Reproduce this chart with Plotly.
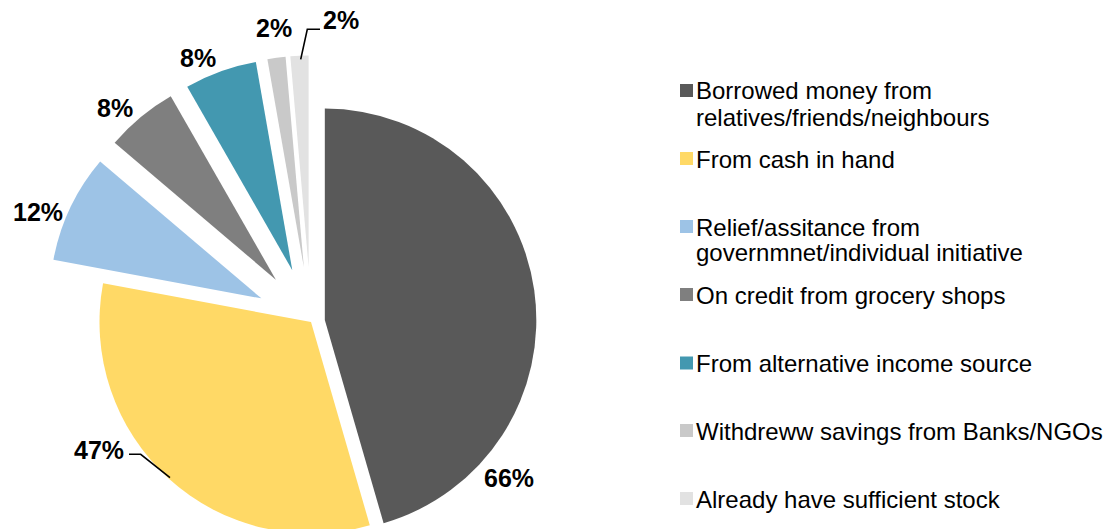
import plotly.graph_objects as go

# ---- data ----
categories = [
    "Borrowed money from relatives/friends/neighbours",
    "From cash in hand",
    "Relief/assitance from governmnet/individual initiative",
    "On credit from grocery shops",
    "From alternative income source",
    "Withdreww savings from Banks/NGOs",
    "Already have sufficient stock",
]
values = [66, 47, 12, 8, 8, 2, 2]
legend_lines = [
    ["Borrowed money from", "relatives/friends/neighbours"],
    ["From cash in hand"],
    ["Relief/assitance from", "governmnet/individual initiative"],
    ["On credit from grocery shops"],
    ["From alternative income source"],
    ["Withdreww savings from Banks/NGOs"],
    ["Already have sufficient stock"],
]

# ---- styling ----
colors = ["#595959", "#FFD966", "#9DC3E6", "#7F7F7F", "#4398B0", "#C9C9C9", "#E2E2E2"]
pulls = [0.066, 0.0, 0.26, 0.26, 0.26, 0.26, 0.26]
FONT = "Liberation Sans, Arial, sans-serif"

W, H = 1110, 600          # canvas; the lower part of the pie runs below the visible window
CX, CY = 311.0, 322.0     # pie centre (px from top-left)
R = 211.5                 # pie radius (px)


def px(x):
    return x / W


def py(y):
    return 1 - y / H


half = R * (1 + max(pulls))

fig = go.Figure(
    go.Pie(
        labels=categories,
        values=values,
        marker=dict(colors=colors, line=dict(width=0)),
        pull=pulls,
        sort=False,
        direction="clockwise",
        rotation=0,
        textinfo="none",
        hovertemplate="%{label}: %{value}%<extra></extra>",
        domain=dict(x=[px(CX - half), px(CX + half)],
                    y=[py(CY + half), py(CY - half)]),
        showlegend=False,
    )
)

# percentage labels around the pie
label_pos = [(508.7, 478.3), (99.0, 449.5), (37.5, 212.0), (114.7, 108.3),
             (198.0, 58.0), (274.0, 28.0), (341.0, 19.7)]
annotations = []
for v, (lx, ly) in zip(values, label_pos):
    annotations.append(dict(
        x=px(lx), y=py(ly), xref="paper", yref="paper",
        text=f"<b>{v}%</b>", showarrow=False,
        xanchor="center", yanchor="middle",
        font=dict(family=FONT, size=25, color="#000000"),
    ))

shapes = []
# leader lines
leaders = [
    [(129.0, 454.3), (140.7, 454.3), (170.0, 477.7)],
    [(300.7, 59.3), (307.3, 29.3), (320.0, 29.3)],
]
for pts in leaders:
    path = "M " + " L ".join(f"{px(x)},{py(y)}" for x, y in pts)
    shapes.append(dict(type="path", path=path, xref="paper", yref="paper",
                       line=dict(color="#000000", width=1.6)))

# legend: colour squares and text
item_y = [90.5, 158.5, 226.5, 294.5, 363.0, 430.5, 498.5]
LINE_GAP = 26.0
SQ = 13.0
for color, lines, yc in zip(colors, legend_lines, item_y):
    shapes.append(dict(type="rect", xref="paper", yref="paper",
                       x0=px(680), x1=px(680 + SQ),
                       y0=py(yc - SQ / 2), y1=py(yc + SQ / 2),
                       fillcolor=color, line=dict(width=0)))
    for i, line in enumerate(lines):
        annotations.append(dict(
            x=px(694), y=py(yc + 0.5 + i * LINE_GAP), xref="paper", yref="paper",
            text=line, showarrow=False, xanchor="left", yanchor="middle",
            font=dict(family=FONT, size=24, color="#000000"),
        ))

fig.update_layout(
    width=W, height=H,
    margin=dict(l=0, r=0, t=0, b=0),
    paper_bgcolor="#FFFFFF",
    plot_bgcolor="#FFFFFF",
    annotations=annotations,
    shapes=shapes,
    showlegend=False,
)

fig.write_html(
    "out.html",
    post_script="document.documentElement.style.overflow='hidden';"
                "document.body.style.overflow='hidden';document.body.style.margin='0';",
)
